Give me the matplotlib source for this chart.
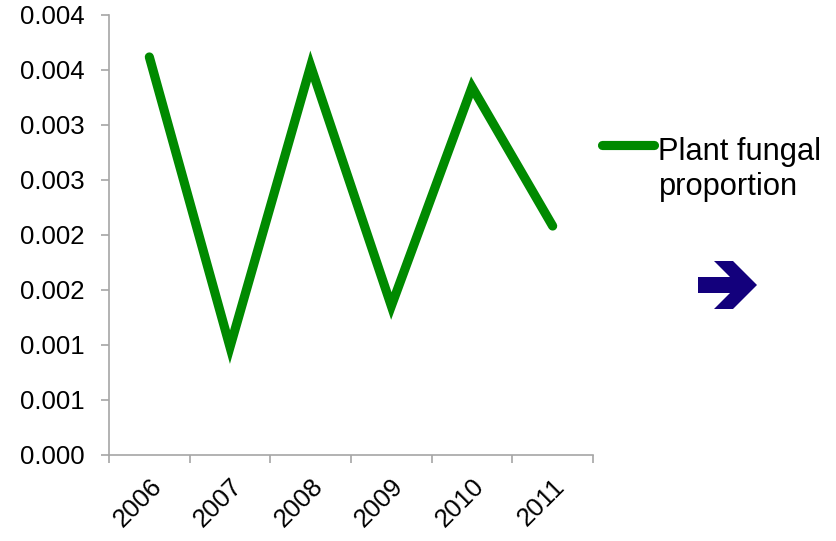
import matplotlib
matplotlib.use("Agg")
import matplotlib.pyplot as plt
from matplotlib.lines import Line2D
from matplotlib.patches import Polygon
from matplotlib.transforms import ScaledTranslation

plt.rcParams['font.family'] = ['Liberation Sans', 'DejaVu Sans']

years = ['2006', '2007', '2008', '2009', '2010', '2011']
fungal = [0.003614, 0.000977, 0.003532, 0.001350, 0.003340, 0.002077]
ytick_vals = [0.0, 0.0005, 0.0010, 0.0015, 0.0020, 0.0025, 0.0030, 0.0035, 0.0040]
ytick_labels = ['0.000', '0.001', '0.001', '0.002', '0.002', '0.003', '0.003', '0.004', '0.004']
legend_lines = ['Plant fungal', 'proportion']

W, H = 837, 541
fig = plt.figure(figsize=(W / 100, H / 100), dpi=100)
ax = fig.add_axes([109 / W, 1 - 454.5 / H, 484 / W, 440 / H])

green = '#008A00'
gray = '#A6A6A6'
fs = 18.5
legend_fs = 22.2

x = list(range(len(years)))
ax.plot(x, fungal, color=green, lw=6.6, solid_capstyle='round', solid_joinstyle='miter')

ax.set_xlim(-0.5, len(years) - 0.5)
ax.set_ylim(0, 0.004)

ax.set_yticks(ytick_vals)
ax.set_yticklabels(ytick_labels, fontsize=fs)

# category boundaries carry the tick marks, centres carry the labels
ax.set_xticks([i - 0.5 for i in range(len(years) + 1)])
ax.set_xticklabels([])
ax.set_xticks(x, minor=True)
ax.set_xticklabels(years, minor=True, fontsize=fs, rotation=45,
                   ha='right', va='top', rotation_mode='anchor')
shift = ScaledTranslation(-5 / 100, -2 / 100, fig.dpi_scale_trans)
for lab in ax.get_xticklabels(minor=True):
    lab.set_transform(lab.get_transform() + shift)
ax.tick_params(axis='x', which='minor', length=0, pad=14)
ax.tick_params(axis='both', which='major', length=6, width=1.2, color=gray)
ax.tick_params(axis='y', pad=11.5)

for s in ['top', 'right']:
    ax.spines[s].set_visible(False)
for s in ['left', 'bottom']:
    ax.spines[s].set_color(gray)
    ax.spines[s].set_linewidth(1.2)

# legend entry
fig.add_artist(Line2D([602 / W, 654 / W], [1 - 145 / H, 1 - 145 / H],
                      transform=fig.transFigure, color=green, lw=6.6,
                      solid_capstyle='round'))
for txt, base in zip(legend_lines, [159.5, 194.5]):
    fig.text(658.5 / W, 1 - base / H, txt, fontsize=legend_fs,
             ha='left', va='baseline')

# navigation arrow
pts = [(698, 277), (730, 277), (714, 261), (733, 261), (757, 285),
       (733, 309), (714, 309), (730, 293), (698, 293)]
arrow = Polygon([(px / W, 1 - py / H) for px, py in pts], closed=True,
                transform=fig.transFigure, facecolor='#13007C', edgecolor='none')
fig.add_artist(arrow)

fig.savefig('out.png', dpi=100)
